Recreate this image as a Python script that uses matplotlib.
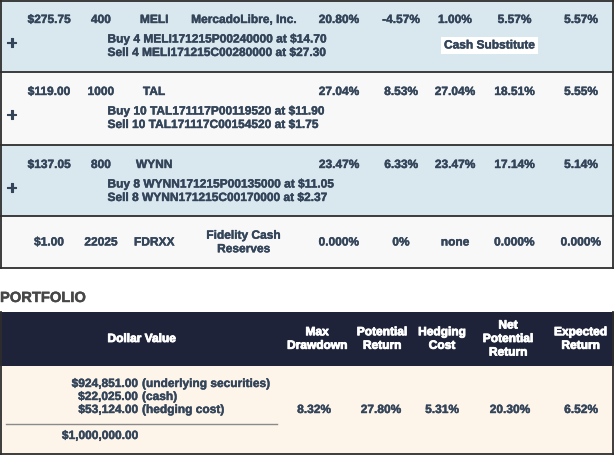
import matplotlib
matplotlib.use("Agg")
import matplotlib.pyplot as plt
from matplotlib.patches import Rectangle
import matplotlib.patheffects as pe

# ---------------- data ----------------
prices = ["$275.75", "$119.00", "$137.05", "$1.00"]
shares = ["400", "1000", "800", "22025"]
tickers = ["MELI", "TAL", "WYNN", "FDRXX"]
names = ["MercadoLibre, Inc.", "", "", "Fidelity Cash\nReserves"]
col5 = ["20.80%", "27.04%", "23.47%", "0.000%"]
col6 = ["-4.57%", "8.53%", "6.33%", "0%"]
col7 = ["1.00%", "27.04%", "23.47%", "none"]
col8 = ["5.57%", "18.51%", "17.14%", "0.000%"]
col9 = ["5.57%", "5.55%", "5.14%", "0.000%"]
buy_legs = ["Buy 4 MELI171215P00240000 at $14.70",
            "Buy 10 TAL171117P00119520 at $11.90",
            "Buy 8 WYNN171215P00135000 at $11.05", ""]
sell_legs = ["Sell 4 MELI171215C00280000 at $27.30",
             "Sell 10 TAL171117C00154520 at $1.75",
             "Sell 8 WYNN171215C00170000 at $2.37", ""]
tags = ["Cash Substitute", "", "", ""]

portfolio_title = "PORTFOLIO"
header_labels = ["Dollar Value", "Max\nDrawdown", "Potential\nReturn",
                 "Hedging\nCost", "Net\nPotential\nReturn", "Expected\nReturn"]
dollar_amounts = ["$924,851.00", "$22,025.00", "$53,124.00"]
dollar_notes = ["(underlying securities)", "(cash)", "(hedging cost)"]
dollar_total = "$1,000,000.00"
portfolio_values = ["8.32%", "27.80%", "5.31%", "20.30%", "6.52%"]

# ---------------- layout ----------------
W, H = 614, 455
fig = plt.figure(figsize=(W / 100, H / 100), dpi=100)
ax = fig.add_axes([0, 0, 1, 1])
ax.set_xlim(0, W)
ax.set_ylim(H, 0)
ax.axis("off")

FONT = "Liberation Sans"
FS = 8.6
TXT = "#34455a"
BORDER = "#2e2e2e"
BLUE = "#d9e7ef"
WHITE = "#f8f8f8"

row_tops = [0, 72, 145, 216]
row_bots = [72, 145, 216, 268]
row_colors = [BLUE, WHITE, BLUE, WHITE]
col_x = [49, 101, 154, 243.5, 339, 401, 455, 514.5, 581]

def t(x, y, s, ha="center", color=TXT, fs=FS, weight="bold", stroke=0.3, **kw):
    ax.text(x, y, s, ha=ha, va="center", color=color, fontsize=fs,
            fontfamily=FONT, fontweight=weight,
            path_effects=[pe.withStroke(linewidth=stroke, foreground=color)],
            **kw)

for i in range(4):
    top, bot = row_tops[i], row_bots[i]
    ax.add_patch(Rectangle((0, top), W, bot - top, facecolor=row_colors[i],
                           edgecolor="none", zorder=0))
    vals = [prices[i], shares[i], tickers[i], names[i], col5[i],
            col6[i], col7[i], col8[i], col9[i]]
    if buy_legs[i]:
        ym = top + 20
        for x, v in zip(col_x, vals):
            if v:
                t(x, ym, v)
        t(107.5, top + 39.5, buy_legs[i], ha="left")
        t(107.5, top + 53, sell_legs[i], ha="left")
        t(11.5, top + 44, "+", fs=13, stroke=0.8)
        if tags[i]:
            ax.add_patch(Rectangle((441, top + 37), 97, 16.5, facecolor="white",
                                   edgecolor="none", zorder=1))
            t(489.5, top + 45.5, tags[i], zorder=2)
    else:
        ym = (top + bot) / 2 + 0.5
        for x, v in zip(col_x, vals):
            t(x, ym, v, linespacing=1.17)

# row borders
for y in [0.7] + row_bots:
    ax.plot([0, W], [y, y], color=BORDER, lw=1.3, solid_capstyle="butt")
ax.plot([0.7, 0.7], [0, 268], color=BORDER, lw=1.3)
ax.plot([613.3, 613.3], [0, 268], color=BORDER, lw=1.3)

# ---------------- portfolio ----------------
t(0, 298, portfolio_title, ha="left", color="#474747", fs=10.6)

NAVY = "#1e233a"
CREAM = "#fdf4ea"
ax.add_patch(Rectangle((0, 312), W, 54, facecolor=NAVY, edgecolor="none"))
ax.add_patch(Rectangle((0, 366), W, 88, facecolor=CREAM, edgecolor="none"))
ax.plot([0.7, 0.7], [312, 454], color=BORDER, lw=1.3)
ax.plot([613.3, 613.3], [312, 454], color=BORDER, lw=1.3)
ax.plot([0, W], [453.5, 453.5], color=BORDER, lw=1.3)

head_x = [141.5, 317, 382, 442, 508, 580.5]
for x, s in zip(head_x, header_labels):
    t(x, 339, s, color="white", linespacing=1.17, stroke=0.6)

amt_y = [384, 397, 410]
for y, a, n in zip(amt_y, dollar_amounts, dollar_notes):
    t(138, y, a, ha="right")
    t(142, y, n, ha="left")
ax.plot([6, 277], [424, 424], color="#8a8a8a", lw=1.0)
t(139, 436, dollar_total, ha="right")

val_x = [314, 381, 442, 510, 581]
for x, v in zip(val_x, portfolio_values):
    t(x, 410, v)

fig.savefig("out.png", dpi=100)
